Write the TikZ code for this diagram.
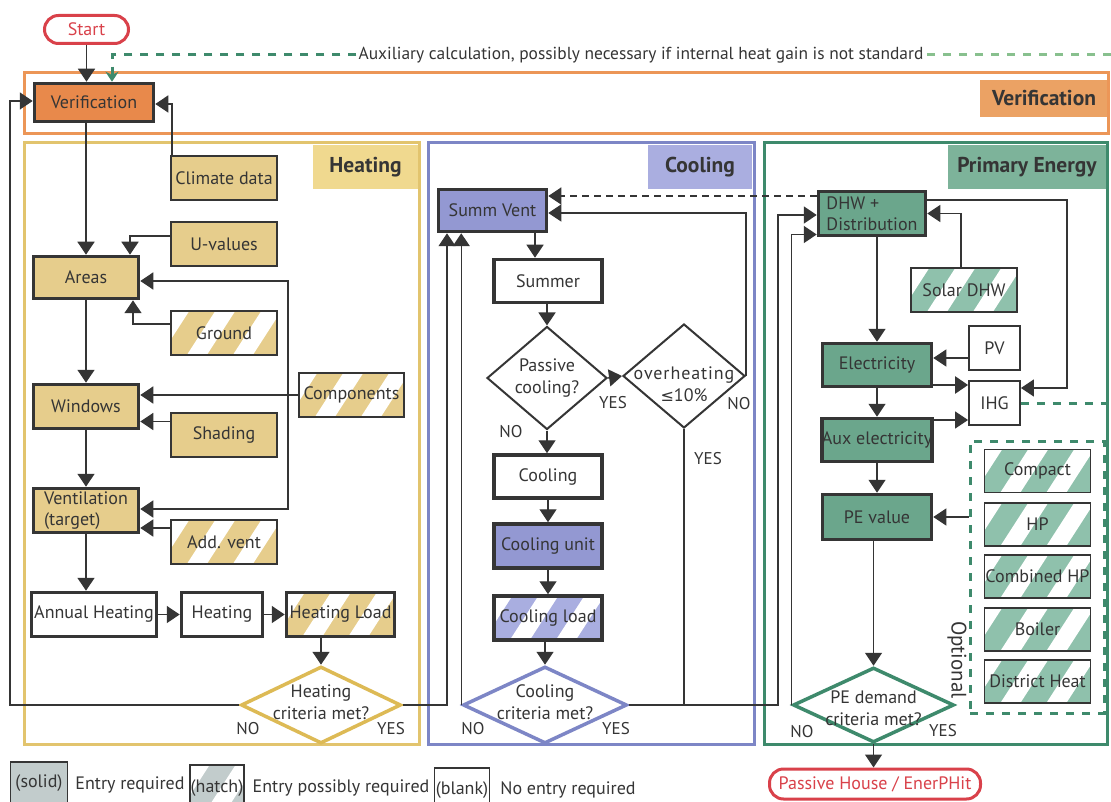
\documentclass[tikz,border=0pt]{standalone}
\usepackage{fontspec}
\setmainfont{PT Sans}
\newfontfamily\symfont{DejaVu Sans}
\usetikzlibrary{arrows.meta,shapes.geometric,calc}

\definecolor{ink}{HTML}{353535}
\definecolor{tanF}{HTML}{E6CD8C}
\definecolor{tanL}{HTML}{F0D98F}
\definecolor{tanE}{HTML}{E2C46E}
\definecolor{tanD}{HTML}{DDBA55}
\definecolor{oraF}{HTML}{E8894B}
\definecolor{oraL}{HTML}{EBA264}
\definecolor{oraE}{HTML}{EC9657}
\definecolor{bluF}{HTML}{9398D2}
\definecolor{bluL}{HTML}{AAAEE0}
\definecolor{bluE}{HTML}{7D86C6}
\definecolor{bluH}{HTML}{A9AEE0}
\definecolor{grnF}{HTML}{6BA68C}
\definecolor{grnL}{HTML}{7DB39A}
\definecolor{grnE}{HTML}{3E8A6C}
\definecolor{grnH}{HTML}{8FC1AC}
\definecolor{redE}{HTML}{D9414A}
\definecolor{legG}{HTML}{C2CCCC}
\definecolor{dashL}{HTML}{88C08E}

\tikzset{
  every node/.style={font=\fontsize{18}{21}\selectfont, text=ink},
  box/.style={rectangle, inner sep=0pt, align=center},
  req/.style={box, draw=ink, line width=3.5pt},
  inp/.style={box, draw=ink, line width=1.8pt},
  pill/.style={rectangle, rounded corners=14pt, draw=redE, line width=3pt, text=redE, inner sep=0pt, fill=white},
  dia/.style={diamond, inner sep=0pt, fill=white, line width=3.5pt},
  dtext/.style={align=center, inner sep=0pt, font=\fontsize{18}{22}\selectfont},
  seclab/.style={inner sep=0pt, font=\bfseries\fontsize{21.5}{25}\selectfont},
  hatch/.style={path picture={
    \foreach \k in {0,...,7}{
      \fill[white] ([shift={(\k*46pt-80pt,-6pt)}]path picture bounding box.south west)
        -- ++(20pt,0pt) -- ++(40pt,62pt) -- ++(-20pt,0pt) -- cycle;
    }}},
  arr/.style={draw=ink, line width=1.4pt, -{Triangle[length=13pt,width=17pt]}},
  ln/.style={draw=ink, line width=1.4pt},
  frame/.style={line width=3pt},
  yn/.style={inner sep=0pt, font=\fontsize{17}{20}\selectfont}
}

\begin{document}
\begin{tikzpicture}[x=1pt,y=-1pt]
\useasboundingbox (0,0) rectangle (1111,802);
\fill[white] (0,0) rectangle (1111,802);

% ---------- section labels ----------
\node[seclab, fill=oraL, minimum width=128pt, minimum height=37pt] (verlab) at (1044,98.5) {Verification};
\node[seclab, fill=tanL, minimum width=105pt, minimum height=44pt] (heatlab) at (365.5,167) {Heating};
\node[seclab, fill=bluL, minimum width=104pt, minimum height=44pt] (coollab) at (700,167) {Cooling};
\node[seclab, fill=grnL, minimum width=158pt, minimum height=44pt] (pelab) at (1027,167) {Primary Energy};

% ---------- frames ----------
\draw[frame, draw=oraE] (24,73) rectangle (1108,134);
\draw[frame, draw=tanE] (24,143) rectangle (419,744);
\draw[frame, draw=bluE] (428,143) rectangle (754,744);
\draw[frame, draw=grnE] (764,143) rectangle (1107,744);

% ---------- top ----------
\node[pill, minimum width=84pt, minimum height=28pt] (start) at (86.5,29.5) {Start};
\node[req, fill=oraF, minimum width=119pt, minimum height=38pt] (verif) at (94,102.5) {Verification};
\node[fill=white, inner sep=2pt, font=\fontsize{17.4}{20}\selectfont] (auxtext) at (641,55) {Auxiliary calculation, possibly necessary if internal heat gain is not standard};

% ---------- heating ----------
\node[req, fill=tanF, minimum width=105pt, minimum height=42pt] (areas) at (86,277.5) {Areas};
\node[req, fill=tanF, minimum width=105pt, minimum height=44pt] (windows) at (86,406.5) {Windows};
\node[req, fill=tanF, minimum width=105pt, minimum height=44pt, align=left] (vent) at (86,510.5) {Ventilation\\(target)};
\node[inp, fill=tanF, minimum width=106pt, minimum height=44pt] (climate) at (224,178) {Climate data};
\node[inp, fill=tanF, minimum width=106pt, minimum height=44pt] (uval) at (224,244) {U-values};
\node[inp, fill=tanF, hatch, minimum width=106pt, minimum height=44pt] (ground) at (224,333) {Ground};
\node[inp, fill=tanF, hatch, minimum width=105pt, minimum height=44pt] (comp) at (351.5,395) {Components};
\node[inp, fill=tanF, minimum width=106pt, minimum height=44pt] (shading) at (224,435) {Shading};
\node[inp, fill=tanF, hatch, minimum width=106pt, minimum height=44pt] (addvent) at (224,542) {Add. vent};
\node[req, fill=white, minimum width=125pt, minimum height=44pt] (annual) at (94,614.5) {Annual Heating};
\node[req, fill=white, minimum width=81pt, minimum height=44pt] (heat) at (222,614.5) {Heating};
\node[req, fill=tanF, hatch, minimum width=108pt, minimum height=44pt] (hload) at (340.5,614.5) {Heating Load};
\node[dia, draw=tanD, minimum width=160pt, minimum height=77pt] (hdiam) at (321,705) {};
\node[dtext] (hdiamt) at (321,702) {Heating\\criteria met?};
\node[yn] (hno) at (248,729) {NO};
\node[yn] (hyes) at (391,729) {YES};

% ---------- cooling ----------
\node[req, fill=bluF, minimum width=108pt, minimum height=42pt] (summvent) at (492.5,210.5) {Summ Vent};
\node[req, fill=white, minimum width=108pt, minimum height=43pt] (summer) at (548,281) {Summer};
\node[dia, draw=ink, line width=2pt, minimum width=120pt, minimum height=103pt] (passive) at (547,378) {};
\node[dtext] (passivet) at (547,378) {Passive\\cooling?};
\node[dia, draw=ink, line width=2pt, minimum width=122pt, minimum height=104pt] (overheat) at (684,376) {};
\node[dtext] (overheatt) at (684,384) {\addfontfeatures{LetterSpace=5}overheating\\{\symfont\fontsize{16}{20}\selectfont ≤}10\%};
\node[req, fill=white, minimum width=108pt, minimum height=43pt] (cooling) at (548,476.5) {Cooling};
\node[req, fill=bluF, minimum width=108pt, minimum height=44pt] (cunit) at (548,546) {Cooling unit};
\node[req, fill=bluH, hatch, minimum width=108pt, minimum height=44pt] (cload) at (548,618) {Cooling load};
\node[dia, draw=bluE, minimum width=164pt, minimum height=77pt] (cdiam) at (545,705) {};
\node[dtext] (cdiamt) at (545,702) {Cooling\\criteria met?};
\node[yn] (pyes) at (613,403) {YES};
\node[yn] (pno) at (511,432) {NO};
\node[yn] (ono) at (739,404) {NO};
\node[yn] (oyes) at (708,459) {YES};
\node[yn] (cno) at (473,729) {NO};
\node[yn] (cyes) at (616,729) {YES};

% ---------- primary energy ----------
\node[req, fill=grnF, minimum width=107pt, minimum height=44pt, align=left] (dhw) at (872,213.5) {DHW +\\Distribution};
\node[inp, fill=grnH, hatch, minimum width=106pt, minimum height=44pt] (solar) at (964,290) {Solar DHW};
\node[req, fill=grnF, minimum width=109pt, minimum height=43pt] (elec) at (877,365) {Electricity};
\node[inp, fill=white, minimum width=51pt, minimum height=44pt] (pv) at (994.5,348) {PV};
\node[inp, fill=white, minimum width=51pt, minimum height=44pt] (ihg) at (994.5,403) {IHG};
\node[req, fill=grnF, minimum width=109pt, minimum height=43pt] (aux) at (877,440) {Aux electricity};
\node[req, fill=grnF, minimum width=109pt, minimum height=45pt] (pe) at (877,517) {PE value};
\node[rectangle, draw=grnE, line width=3pt, dash pattern=on 8pt off 8pt, minimum width=134pt, minimum height=272pt, inner sep=0pt] (optbox) at (1037,577) {};
\node[inp, fill=grnH, hatch, minimum width=106pt, minimum height=43pt] (compact) at (1037.5,471) {Compact};
\node[inp, fill=grnH, hatch, minimum width=106pt, minimum height=43pt] (hp) at (1037.5,524.5) {HP};
\node[inp, fill=grnH, hatch, minimum width=106pt, minimum height=43pt] (combhp) at (1037.5,576.5) {Combined HP};
\node[inp, fill=grnH, hatch, minimum width=106pt, minimum height=43pt] (boiler) at (1037.5,629.5) {Boiler};
\node[inp, fill=grnH, hatch, minimum width=106pt, minimum height=43pt] (dist) at (1037.5,681.5) {District Heat};
\node[rotate=-90, inner sep=0pt, font=\fontsize{21}{24}\selectfont] (optlab) at (957,660) {Optional};
\node[dia, draw=grnE, minimum width=161pt, minimum height=75pt] (pediam) at (873.5,705) {};
\node[dtext] (pediamt) at (873.5,708) {PE demand\\criteria met?};
\node[yn] (peno) at (802,732) {NO};
\node[yn] (peyes) at (943,731) {YES};
\node[pill, minimum width=211pt, minimum height=30pt] (ph) at (875,784) {Passive House / EnerPHit};

% ---------- legend ----------
\node[box, draw=ink, line width=1.5pt, fill=legG, minimum width=57pt, minimum height=46pt] (legsolid) at (39,785) {};
\node[inner sep=0pt] (legsolidt) at (39,783) {(solid)};
\node[inner sep=0pt] (legreq) at (130,785) {Entry required};
\node[box, draw=ink, line width=1.5pt, fill=legG, hatch, minimum width=54pt, minimum height=46pt] (leghatch) at (217,788) {};
\node[inner sep=0pt] (leghatcht) at (217,788) {(hatch)};
\node[inner sep=0pt] (legposs) at (341,788) {Entry possibly required};
\node[box, draw=ink, line width=1.5pt, fill=white, minimum width=55pt, minimum height=46pt] (legblank) at (462,791) {};
\node[inner sep=0pt] (legblankt) at (462,790) {(blank)};
\node[inner sep=0pt] (legno) at (568,790) {No entry required};

% ---------- coordinates ----------
\coordinate (auxR) at (1111,55);
\coordinate (auxL) at (112,55);
\coordinate (rail0) at (10,0);
\coordinate (rail1) at (447,0);
\coordinate (rail2) at (288,0);
\coordinate (rail3) at (778,0);
\coordinate (rail4) at (1067,0);
\coordinate (rightedge) at (1111,0);
\coordinate (c1) at ([xshift=-52pt]climate.north);
\coordinate (v0) at ([yshift=-1.5pt]verif.east);
\coordinate (vw) at ([yshift=1.5pt]verif.west);
\coordinate (u1) at ([yshift=8pt]uval.west);
\coordinate (a2) at ([xshift=44pt]areas.north);
\coordinate (g1) at ([yshift=9pt]ground.west);
\coordinate (a3) at ([xshift=47pt]areas.south);
\coordinate (a1) at ([yshift=-3.5pt]areas.east);
\coordinate (v1) at ([yshift=1.5pt]vent.east);
\coordinate (s1) at ([yshift=13.5pt]shading.west);
\coordinate (ad1) at ([yshift=14pt]addvent.west);
\coordinate (sv1) at ([xshift=42.5pt]summvent.south);
\coordinate (sv2) at ([yshift=-2.5pt]summvent.east);
\coordinate (dh1) at ([yshift=-1.5pt]dhw.west);
\coordinate (dh2) at ([yshift=-21pt]dhw.west);
\coordinate (dh3) at ([yshift=17.5pt]dhw.west);
\coordinate (dh4) at ([yshift=13.5pt]dhw.east);
\coordinate (so1) at ([xshift=-3pt]solar.north);
\coordinate (ih1) at ([yshift=15pt]ihg.east);
\coordinate (pv1) at ([yshift=-10pt]pv.west);
\coordinate (e1) at ([yshift=-20pt]elec.east);
\coordinate (x1) at ([yshift=20pt]aux.east);

% ---------- connectors ----------
\draw[arr] (start.south) -- (start.south |- verif.north);
\draw[dashL, line width=3pt, dash pattern=on 8pt off 8pt] (auxR) -- (auxtext.east);
\draw[grnE, line width=3pt, dash pattern=on 8pt off 8pt, -{Stealth[length=10pt,width=13pt]}] (auxtext.west) -- (auxL) -- (auxL |- verif.north);

\draw[arr] (verif.south -| areas.north) -- (areas.north);
\draw[arr] (c1) |- (v0);
\draw[arr] (u1) -| (a2);
\draw[arr] (g1) -| (a3);
\draw[arr] (areas.south) -- (windows.north);
\draw[arr] (windows.south) -- (vent.north);
\draw[arr] (vent.south) -- (vent.south |- annual.north);
\draw[arr] (comp.west) -- (comp.west -| windows.east);
\draw[arr] (rail2 |- comp.west) |- (a1);
\draw[arr] (rail2 |- comp.west) |- (v1);
\draw[arr] (s1) -- (s1 -| windows.east);
\draw[arr] (ad1) -- (ad1 -| vent.east);
\draw[arr] (annual.east) -- (heat.west);
\draw[arr] (heat.east) -- (hload.west);
\draw[arr] (hload.south -| hdiam.north) -- (hdiam.north);
\draw[arr] (hdiam.west) -- (hdiam.west -| rail0) |- (vw);
\draw[arr] (hdiam.east) -- (hdiam.east -| rail1) -- (rail1 |- summvent.south);

\draw[arr] (sv1) -- (sv1 |- summer.north);
\draw[arr] (summer.south -| passive.north) -- (passive.north);
\draw[arr] (passive.east) -- (overheat.west);
\draw[arr] (passive.south) -- (passive.south |- cooling.north);
\draw[arr] (cooling.south) -- (cunit.north);
\draw[arr] (cunit.south) -- (cload.north);
\draw[arr] (cload.south -| cdiam.north) -- (cdiam.north);
\draw[arr] (overheat.east) |- (sv2);
\draw[arr] (cdiam.west) -- (cdiam.west |- summvent.south);
\draw[arr] (cdiam.east) -- (cdiam.east -| rail3) |- (dh1);
\draw[ln] (overheat.south) -- (overheat.south |- cdiam.east);
\draw[arr] (pediam.west) |- (dh2);
\draw[arr, dash pattern=on 7pt off 5pt] (dh3) -- (dh3 -| summvent.east);

\draw[arr] (so1) |- (dhw.east);
\draw[arr] (dh4) -- (dh4 -| rail4) |- (ih1);
\draw[arr] (dhw.south -| elec.north) -- (elec.north);
\draw[arr] (pv1) -- (pv1 -| elec.east);
\draw[arr, line width=2.5pt] (e1) -- (e1 -| ihg.west);
\draw[arr] (x1) -- (x1 -| ihg.west);
\draw[arr] (elec.south) -- (aux.north);
\draw[arr] (aux.south) -- (pe.north);
\draw[arr] (optbox.west |- pe.east) -- (pe.east);
\draw[arr] (pe.south -| pediam.north) -- (pediam.north);
\draw[arr] (pediam.south) -- (pediam.south |- ph.north);
\draw[grnE, line width=3pt, dash pattern=on 8pt off 8pt] (ihg.east) -- (ihg.east -| rightedge);
\end{tikzpicture}
\end{document}
